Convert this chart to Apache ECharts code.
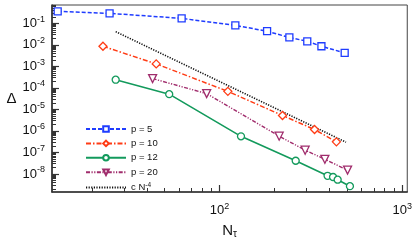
<!DOCTYPE html>
<html><head><meta charset="utf-8">
<script src="https://cdn.jsdelivr.net/npm/echarts@6/dist/echarts.min.js"></script>
<style>html,body{margin:0;padding:0;background:#fff}#c{width:415px;height:244px}</style>
</head><body><div id="c"></div><script>
// ---- data ----
const N5  = [13, 25, 62, 122, 182, 241, 302, 361, 484];
const D5  = [0.36, 0.29, 0.17, 0.080, 0.043, 0.022, 0.0146, 0.0086, 0.0042];
const N10 = [23, 45, 111, 221, 331, 436];
const D10 = [8.6e-3, 1.3e-3, 6.9e-5, 5.2e-6, 1.16e-6, 3.1e-7];
const N12 = [27, 53, 131, 261, 390, 418, 443, 517];
const D12 = [2.4e-4, 5.1e-5, 5.6e-7, 4.1e-8, 8.2e-9, 7.2e-9, 5.4e-9, 2.7e-9];
const N20 = [43, 85, 212, 294, 377, 502];
const D20 = [2.7e-4, 5.4e-5, 5.7e-7, 1.27e-7, 4.8e-8, 1.5e-8];
const NREF = [27, 492];
const DREF = [4.1e-2, 3.0e-7];
const seriesNames = ['p = 5', 'p = 10', 'p = 12', 'p = 20', 'c N^-4'];
const xTickExps = [2, 3];
const yTickExps = [-1, -2, -3, -4, -5, -6, -7, -8];
const xRange = [12.1, 1065];
const yRange = [1.45e-9, 0.71];

// ---- helpers ----
const L = Math.log10;
const pts = (N, D) => N.map((n, i) => [L(n), L(D[i])]);
function minorTicks(lo, hi) {
  const out = [];
  for (let e = Math.floor(L(lo)) - 1; e <= Math.ceil(L(hi)); e++) {
    for (let k = 2; k <= 9; k++) {
      const v = k * Math.pow(10, e);
      if (v > lo && v < hi) out.push(L(v));
    }
  }
  return out;
}
const FONT = 'Liberation Sans';
const AX = '#333';
const powRich = {
  b: { fontSize: 13, fontFamily: FONT, color: '#111' },
  s: { fontSize: 9, fontFamily: FONT, color: '#111', padding: [0, 0, 8, 0] }
};
const powFmt = v => '{b|10}{s|' + Math.round(v) + '}';

const C5 = '#1f3cff', C10 = '#ff3b14', C12 = '#139a5c', C20 = '#a02c6c';

const xBase = { type: 'value', gridIndex: 0, min: L(xRange[0]), max: L(xRange[1]), splitLine: { show: false } };
const yBase = { type: 'value', gridIndex: 0, min: L(yRange[0]), max: L(yRange[1]), splitLine: { show: false } };

const chart = echarts.init(document.getElementById('c'), null, { renderer: 'canvas' });
chart.setOption({
  animation: false,
  backgroundColor: '#fff',
  grid: { left: 52, right: 6, top: 5, bottom: 40, show: true, borderColor: '#444', borderWidth: 1 },
  xAxis: [
    Object.assign({}, xBase, {
      position: 'bottom',
      axisLine: { show: true, lineStyle: { color: AX, width: 1.6 } },
      axisTick: { show: true, inside: true, length: 7, customValues: xTickExps, lineStyle: { color: AX, width: 1.2 } },
      axisLabel: { show: true, customValues: xTickExps, formatter: powFmt, rich: powRich, margin: 10 },
      name: '{n|N}{t|τ}', nameLocation: 'middle', nameGap: 31,
      nameTextStyle: { rich: { n: { fontSize: 15, fontFamily: FONT, color: '#111' }, t: { fontSize: 10, fontFamily: FONT, color: '#111', padding: [6, 0, 0, 0] } } }
    }),
    Object.assign({}, xBase, {
      position: 'bottom',
      axisLine: { show: false },
      axisTick: { show: true, inside: true, length: 4, customValues: minorTicks(xRange[0], xRange[1]), lineStyle: { color: AX, width: 1 } },
      axisLabel: { show: false }
    })
  ],
  yAxis: [
    Object.assign({}, yBase, {
      position: 'left',
      axisLine: { show: true, lineStyle: { color: AX, width: 1.6 } },
      axisTick: { show: true, inside: true, length: 7, customValues: yTickExps, lineStyle: { color: AX, width: 1.2 } },
      axisLabel: { show: true, customValues: yTickExps, formatter: powFmt, rich: powRich, margin: 7 },
      name: 'Δ', nameLocation: 'middle', nameGap: 34, nameRotate: 0,
      nameTextStyle: { fontSize: 15, fontFamily: FONT, color: '#111' }
    }),
    Object.assign({}, yBase, {
      position: 'left',
      axisLine: { show: false },
      axisTick: { show: true, inside: true, length: 4, customValues: minorTicks(yRange[0], yRange[1]), lineStyle: { color: AX, width: 1 } },
      axisLabel: { show: false }
    })
  ],
  legend: {
    orient: 'vertical', left: 80, top: 119,
    itemWidth: 40, itemHeight: 7, itemGap: 4.4,
    data: seriesNames,
    formatter: n => n === 'c N^-4' ? '{a|c N}{s|-4}' : n,
    textStyle: { fontSize: 9.5, fontFamily: FONT, color: '#111',
      rich: { a: { fontSize: 9.5, fontFamily: FONT, color: '#111' }, s: { fontSize: 6.5, fontFamily: FONT, color: '#111', padding: [0, 0, 5, 0] } } }
  },
  series: [
    { name: seriesNames[0], type: 'line', data: pts(N5, D5), symbol: 'rect', symbolSize: 7,
      lineStyle: { color: C5, width: 1.5, type: [4, 2] }, itemStyle: { color: '#fff', borderColor: C5, borderWidth: 1.3 } },
    { name: seriesNames[1], type: 'line', data: pts(N10, D10), symbol: 'diamond', symbolSize: 8,
      lineStyle: { color: C10, width: 1.5, type: [5, 2, 1.5, 2] }, itemStyle: { color: '#fff', borderColor: C10, borderWidth: 1.3 } },
    { name: seriesNames[2], type: 'line', data: pts(N12, D12), symbol: 'circle', symbolSize: 7,
      lineStyle: { color: C12, width: 1.6, type: 'solid' }, itemStyle: { color: '#fff', borderColor: C12, borderWidth: 1.3 } },
    { name: seriesNames[3], type: 'line', data: pts(N20, D20), symbol: 'triangle', symbolSize: 8, symbolRotate: 180,
      lineStyle: { color: C20, width: 1.4, type: [4, 1.5, 1.2, 1.5, 1.2, 1.5] }, itemStyle: { color: '#fff', borderColor: C20, borderWidth: 1.3 } },
    { name: seriesNames[4], type: 'line', data: pts(NREF, DREF), symbol: 'none',
      lineStyle: { color: '#111', width: 1.6, type: [1.2, 1.4] }, itemStyle: { color: '#111', opacity: 0 } }
  ]
});
</script></body></html>
